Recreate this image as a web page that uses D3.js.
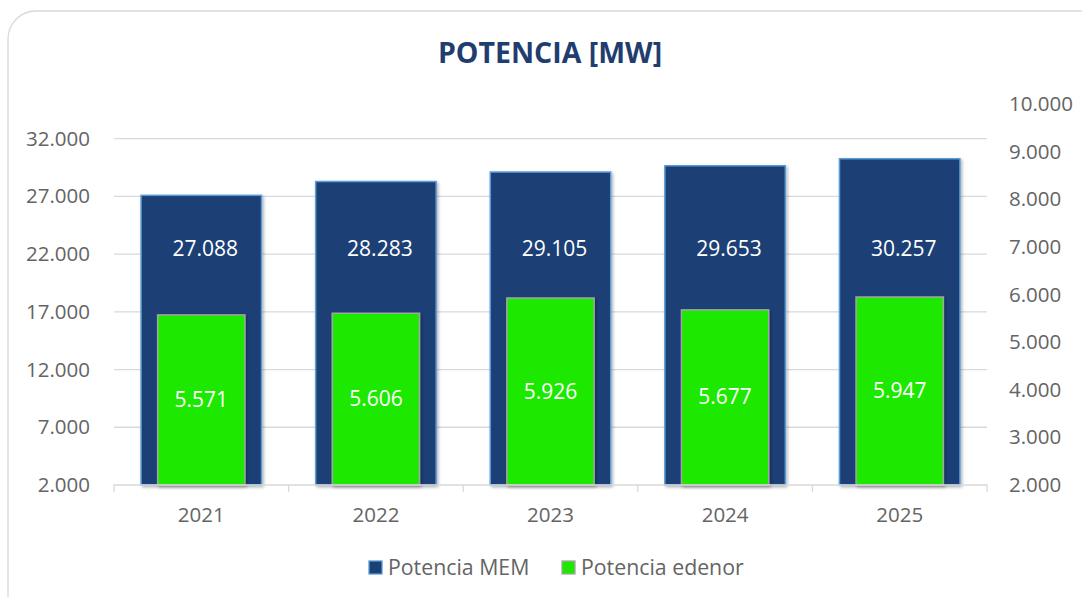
<!DOCTYPE html>
<html><head><meta charset="utf-8">
<script src="https://cdn.jsdelivr.net/npm/d3@7"></script>
<style>
html,body{margin:0;padding:0;background:#fff;}
svg{display:block;font-family:"Open Sans",sans-serif;}
</style></head>
<body>
<svg id="chart" width="1082" height="597"></svg>
<script>
const years = ["2021","2022","2023","2024","2025"];
const potenciaMEM = [27088, 28283, 29105, 29653, 30257];
const potenciaEdenor = [5571, 5606, 5926, 5677, 5947];
const leftTicks = [2000, 7000, 12000, 17000, 22000, 27000, 32000];
const rightTicks = [2000, 3000, 4000, 5000, 6000, 7000, 8000, 9000, 10000];
const seriesNames = ["Potencia MEM", "Potencia edenor"];
const titleText = "POTENCIA [MW]";

const svg = d3.select("#chart");
const W = 1082, H = 597;
const m = {left: 114, right: 1082-987, top: 104, bottom: 597-485};
const fmt = v => d3.format(",")(v).replace(/,/g, ".");
const FS = 20.5, TXT = "#646464";

const defs = svg.append("defs");
const f = defs.append("filter").attr("id","sh").attr("x","-10%").attr("y","-10%").attr("width","130%").attr("height","130%");
f.append("feDropShadow").attr("dx",1.5).attr("dy",1.5).attr("stdDeviation",1.5).attr("flood-color","#000").attr("flood-opacity",0.3);

// chart border
svg.append("rect").attr("x",8).attr("y",11).attr("width",1100).attr("height",620)
  .attr("rx",28).attr("ry",28).attr("fill","#fff").attr("stroke","#d9d9d9").attr("stroke-width",1.3);

svg.append("text").attr("x",550).attr("y",63).attr("text-anchor","middle")
  .attr("font-size",28.5).attr("font-weight","bold").attr("fill","#1f3d6f").text(titleText);

const x = d3.scaleBand().domain(years).range([m.left, W-m.right]).paddingInner(0).paddingOuter(0);
const yL = d3.scaleLinear().domain([2000, 35000]).range([H-m.bottom, m.top]);
const yR = d3.scaleLinear().domain([2000, 10000]).range([H-m.bottom, m.top]);

// gridlines
svg.append("g").selectAll("line").data(leftTicks.filter(t=>t>2000)).join("line")
  .attr("x1", m.left).attr("x2", W-m.right)
  .attr("y1", d=>yL(d)).attr("y2", d=>yL(d))
  .attr("stroke","#d9d9d9").attr("stroke-width",1.3);

// left axis labels
const gl = svg.append("g").attr("transform",`translate(${m.left},0)`)
  .call(d3.axisLeft(yL).tickValues(leftTicks).tickFormat(fmt).tickSize(0).tickPadding(24));
gl.select(".domain").remove();
gl.selectAll("text").attr("font-size",FS).attr("fill",TXT).attr("font-family","Open Sans");

const gr = svg.append("g").attr("transform",`translate(${W-m.right},0)`)
  .call(d3.axisRight(yR).tickValues(rightTicks).tickFormat(fmt).tickSize(0).tickPadding(22));
gr.select(".domain").remove();
gr.selectAll("text").attr("font-size",FS).attr("fill",TXT).attr("font-family","Open Sans");

// bars MEM
const bwMEM = x.bandwidth()*0.69, bwE = x.bandwidth()*0.5;
svg.append("g").selectAll("rect").data(years).join("rect")
  .attr("x", (d)=>x(d)+(x.bandwidth()-bwMEM)/2)
  .attr("width", bwMEM)
  .attr("y", (d,i)=>yL(potenciaMEM[i]))
  .attr("height", (d,i)=>yL(2000)-yL(potenciaMEM[i]))
  .attr("fill","#1a4176").attr("stroke","#5b9bd5").attr("stroke-width",1.5)
  .attr("filter","url(#sh)");

svg.append("g").selectAll("rect").data(years).join("rect")
  .attr("x", (d)=>x(d)+(x.bandwidth()-bwE)/2)
  .attr("width", bwE)
  .attr("y", (d,i)=>yR(potenciaEdenor[i]))
  .attr("height", (d,i)=>yR(2000)-yR(potenciaEdenor[i]))
  .attr("fill","#1ee800").attr("stroke","#a5a5a5").attr("stroke-width",1.5)
  .attr("filter","url(#sh)");

// x axis
const gx = svg.append("g").attr("transform",`translate(0,${H-m.bottom})`)
  .call(d3.axisBottom(x).tickSize(0).tickPadding(22));
gx.select(".domain").attr("stroke","#d9d9d9").attr("stroke-width",1.3)
  .attr("d", `M${m.left},7V0H${W-m.right}V7`);
gx.selectAll("text").attr("font-size",FS).attr("fill",TXT).attr("font-family","Open Sans");
svg.append("g").selectAll("line").data(years.slice(1)).join("line")
  .attr("x1", d=>x(d)).attr("x2", d=>x(d)).attr("y1", H-m.bottom).attr("y2", H-m.bottom+7)
  .attr("stroke","#d9d9d9").attr("stroke-width",1.3);

// data labels (MEM labels sit in the upper blue area)
svg.append("g").selectAll("text").data(years).join("text")
  .attr("x", d=>x(d)+x.bandwidth()/2+4)
  .attr("y", yL(21800))
  .attr("text-anchor","middle").attr("font-size",21).attr("fill","#fff")
  .text((d,i)=>fmt(potenciaMEM[i]));

svg.append("g").selectAll("text").data(years).join("text")
  .attr("x", d=>x(d)+x.bandwidth()/2)
  .attr("y", (d,i)=> (yR(potenciaEdenor[i]) + yR(2000))/2 + 7)
  .attr("text-anchor","middle").attr("font-size",21).attr("fill","#fff")
  .text((d,i)=>fmt(potenciaEdenor[i]));

// legend
const colors = [["#1a4176","#5b9bd5"],["#1ee800","#a5a5a5"]];
const legX = [369, 562];
const lg = svg.append("g");
seriesNames.forEach((n,i)=>{
  lg.append("rect").attr("x",legX[i]).attr("y",561).attr("width",13).attr("height",13)
    .attr("fill",colors[i][0]).attr("stroke",colors[i][1]).attr("stroke-width",1.3);
  lg.append("text").attr("x",legX[i]+19).attr("y",575).attr("font-size",FS+0.8)
    .attr("fill",TXT).text(n);
});
</script>
</body></html>
